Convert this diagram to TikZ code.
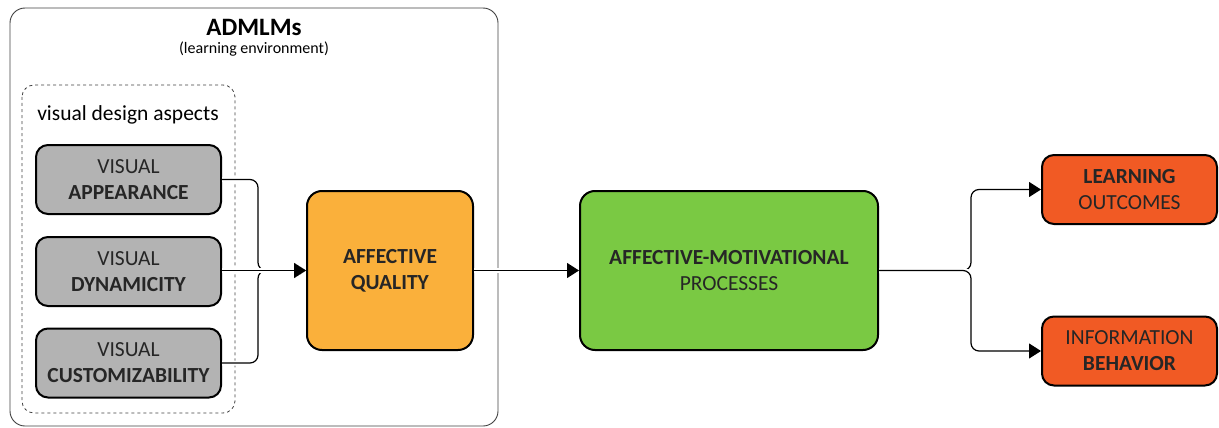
\documentclass[tikz,border=0pt]{standalone}
\usepackage{fontspec}
\setmainfont{Carlito}
\usetikzlibrary{arrows.meta}
\definecolor{aspectgray}{RGB}{179,179,179}
\definecolor{qualorange}{RGB}{250,176,59}
\definecolor{procgreen}{RGB}{122,201,67}
\definecolor{outred}{RGB}{241,90,36}
\begin{document}
\begin{tikzpicture}[x=1pt,y=-1pt,
    box/.style={draw=black, line width=2pt, rounded corners=12pt, align=center,
        inner sep=0pt, font=\fontsize{21.5}{26}\selectfont, text=black!85},
    aspect/.style={box, fill=aspectgray, minimum width=185pt, minimum height=69pt},
    outcome/.style={box, fill=outred, minimum width=175pt, minimum height=69pt},
    link/.style={line width=1.2pt, rounded corners=8pt,
        preaction={draw=white, line width=5pt},
        -{Triangle[length=12pt,width=15pt]}}
]
\useasboundingbox (0,0) rectangle (1219,428);
    % learning environment
    \draw[line width=0.9pt, black!75, rounded corners=15pt] (10,8) rectangle (498,426);
    \node[font=\fontsize{25}{30}\selectfont\bfseries] (admlm) at (254,27) {ADMLMs};
    \node[font=\fontsize{16}{19}\selectfont] (env) at (254,49) {(learning environment)};
    \draw[line width=0.8pt, black!75, dashed, rounded corners=12pt] (22,85) rectangle (235,413);
    \node[font=\fontsize{21.5}{26}\selectfont] (design) at (128,115) {visual design aspects};
  \node[aspect] (appear) at (128.5,179.5) {VISUAL\\\textbf{APPEARANCE}};
  \node[aspect] (dynam) at (128.5,271.5) {VISUAL\\\textbf{DYNAMICITY}};
  \node[aspect] (custom) at (128.5,363) {VISUAL\\\textbf{CUSTOMIZABILITY}};
  \node[box, fill=qualorange, minimum width=166pt, minimum height=159pt, rounded corners=15pt]
    (quality) at (390,270.5) {\textbf{AFFECTIVE}\\\textbf{QUALITY}};
  \node[box, fill=procgreen, minimum width=298pt, minimum height=159pt, rounded corners=15pt]
    (process) at (729,270.5) {\textbf{AFFECTIVE-MOTIVATIONAL}\\PROCESSES};
  \node[outcome] (learn) at (1129.5,189.5) {\textbf{LEARNING}\\OUTCOMES};
  \node[outcome] (inform) at (1129.5,351) {INFORMATION\\\textbf{BEHAVIOR}};
\draw[link] (appear.east) -- (258,179.5) -- (258,270.5) -- (quality.west);
\draw[link] (custom.east) -- (258,363) -- (258,270.5) -- (quality.west);
\draw[link] (dynam.east |- quality.west) -- (quality.west);
\draw[link] (quality.east) -- (process.west);
\draw[link] (process.east) -- (971,270.5) -- (971,189.5) -- (learn.west);
\draw[link] (process.east) -- (971,270.5) -- (971,351) -- (inform.west);
\end{tikzpicture}
\end{document}
